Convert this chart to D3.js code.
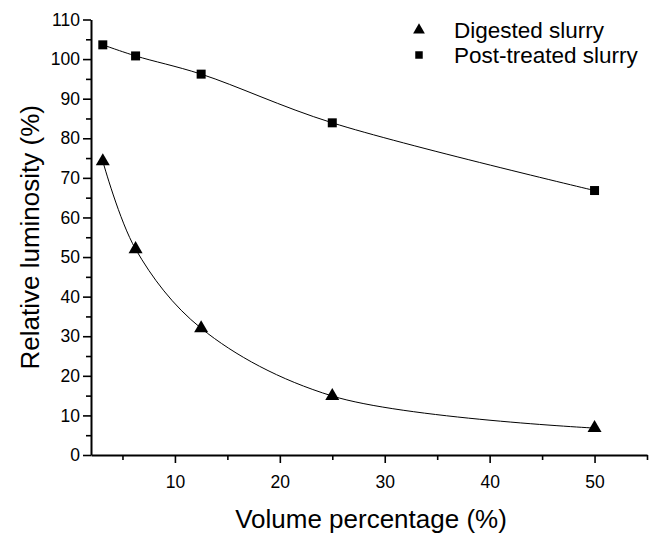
<!DOCTYPE html>
<html>
<head>
<meta charset="utf-8">
<script src="https://cdn.jsdelivr.net/npm/d3@7"></script>
<style>
  body { margin: 0; background: #fff; }
  text { font-family: "Liberation Sans", Arial, sans-serif; fill: #000; }
</style>
</head>
<body>
<svg id="chart" width="659" height="536"></svg>
<script>
const volume = [3.125, 6.25, 12.5, 25, 50];
const digested = [74.2, 52, 32, 14.9, 6.8];
const postTreated = [103.6, 100.8, 96.2, 83.9, 66.8];
const seriesNames = ["Digested slurry", "Post-treated slurry"];
const xTicks = [5, 10, 15, 20, 25, 30, 35, 40, 45, 50, 55];
const yTicks = d3.range(0, 111, 5);

const svg = d3.select("#chart"),
    plotLeft = 91, plotRight = 647, plotTop = 19.5, plotBottom = 455;

const x = d3.scaleLinear().domain([2, 55]).range([plotLeft, plotRight]);
const y = d3.scaleLinear().domain([0, 110]).range([plotBottom, plotTop]);

// axes
const xAxis = svg.append("g").attr("transform", "translate(0," + plotBottom + ")")
    .call(d3.axisBottom(x).tickValues(xTicks).tickSizeOuter(0)
        .tickFormat(d => d % 10 === 0 ? d : ""));
xAxis.selectAll(".tick line").attr("y2", d => d % 10 === 0 ? 8 : 5);

const yAxis = svg.append("g").attr("transform", "translate(" + plotLeft + ",0)")
    .call(d3.axisLeft(y).tickValues(yTicks).tickSizeOuter(0)
        .tickFormat(d => d % 10 === 0 ? d : ""));
yAxis.selectAll(".tick line").attr("x2", d => d % 10 === 0 ? -8 : -5);

[xAxis, yAxis].forEach(a => {
    a.select(".domain").attr("stroke", "#000").attr("stroke-width", 2);
    a.selectAll(".tick line").attr("stroke", "#000").attr("stroke-width", 1.6);
    a.selectAll(".tick text").style("font-size", "17.5px");
});
xAxis.selectAll(".tick text").attr("dy", "1.35em");
yAxis.selectAll(".tick text").attr("x", -11);

// titles
svg.append("text")
    .attr("x", (plotLeft + plotRight) / 2 + 2)
    .attr("y", 528)
    .attr("text-anchor", "middle")
    .style("font-size", "26px")
    .text("Volume percentage (%)");

svg.append("text")
    .attr("transform", "translate(39," + ((plotTop + plotBottom) / 2) + ") rotate(-90)")
    .attr("text-anchor", "middle")
    .style("font-size", "26px")
    .text("Relative luminosity (%)");

// curves and markers
const line = d3.line()
    .x((d, i) => x(volume[i]))
    .y(d => y(d))
    .curve(d3.curveCatmullRom.alpha(0.5));

const series = [
    { values: digested, symbol: d3.symbolTriangle, size: 85 },
    { values: postTreated, symbol: d3.symbolSquare, size: 81 }
];

series.forEach(s => {
    svg.append("path")
        .attr("d", line(s.values))
        .attr("fill", "none")
        .attr("stroke", "#000")
        .attr("stroke-width", 1);

    svg.selectAll(null)
        .data(s.values)
        .enter()
        .append("path")
        .attr("transform", (d, i) => "translate(" + x(volume[i]) + "," + y(d) + ")")
        .attr("d", d3.symbol().type(s.symbol).size(s.size))
        .attr("fill", "#000");
});

// legend
const legend = svg.append("g")
    .selectAll("g")
    .data(seriesNames)
    .enter()
    .append("g")
    .attr("transform", (d, i) => "translate(419," + (30 + i * 25) + ")");

legend.append("path")
    .attr("d", (d, i) => d3.symbol().type(series[i].symbol).size(i === 0 ? 60 : 56)())
    .attr("fill", "#000");

legend.append("text")
    .attr("x", 35)
    .attr("y", 8)
    .style("font-size", "22.5px")
    .text(d => d);
</script>
</body>
</html>
